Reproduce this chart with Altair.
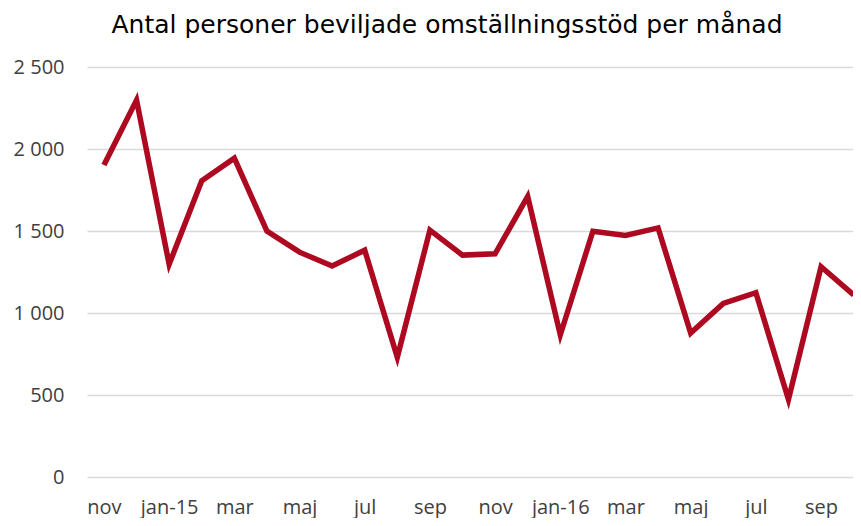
import altair as alt
import pandas as pd

months = ["nov-14", "dec-14", "jan-15", "feb-15", "mar-15", "apr-15", "maj-15", "jun-15",
          "jul-15", "aug-15", "sep-15", "okt-15", "nov-15", "dec-15", "jan-16", "feb-16",
          "mar-16", "apr-16", "maj-16", "jun-16", "jul-16", "aug-16", "sep-16", "okt-16"]
values = [1903, 2298, 1297, 1806, 1944, 1499, 1371, 1286, 1383, 730, 1505, 1353,
          1361, 1711, 866, 1499, 1473, 1519, 878, 1058, 1124, 473, 1282, 1110]
tick_labels = ["nov", "jan-15", "mar", "maj", "jul", "sep",
               "nov", "jan-16", "mar", "maj", "jul", "sep"]
y_ticks = [0, 500, 1000, 1500, 2000, 2500]

df = pd.DataFrame({"idx": list(range(len(months))), "month": months, "value": values})
tick_pos = [i * 2 for i in range(len(tick_labels))]
label_expr = "[" + ",".join(f"'{t}'" for t in tick_labels) + "][round(datum.value/2)]"

chart = alt.Chart(df).mark_line(color="#AD0A21", strokeWidth=5.5, strokeJoin="miter", strokeCap="butt",
                                clip=False).encode(
    x=alt.X("idx:Q", scale=alt.Scale(domain=[-0.52, 22.98], nice=False, zero=False),
            axis=alt.Axis(values=tick_pos, labelExpr=label_expr, grid=False, domain=False,
                          ticks=False, labelPadding=20, labelFontSize=20, labelFont="Open Sans",
                          labelColor="#404040", title=None)),
    y=alt.Y("value:Q", scale=alt.Scale(domain=[0, 2500], nice=False),
            axis=alt.Axis(values=y_ticks, grid=True, gridColor="#d9d9d9", gridWidth=1.5,
                          domain=False, ticks=False, labelPadding=23, labelFontSize=20,
                          labelFont="Open Sans", labelColor="#404040", title=None,
                          labelExpr="replace(format(datum.value, ',d'), ',', ' ')")),
).properties(
    width=766, height=410,
    title=alt.TitleParams("Antal personer beviljade omställningsstöd per månad",
                          font="DejaVu Sans", fontSize=25, fontWeight="normal", color="#000000",
                          anchor="middle", dx=-23, offset=19),
    autosize=alt.AutoSizeParams(type="none"),
    padding={"left": 79, "top": 59, "right": 0, "bottom": 41},
).configure_view(stroke=None)

chart.save("out.html", embed_options={"renderer": "svg", "actions": False})
